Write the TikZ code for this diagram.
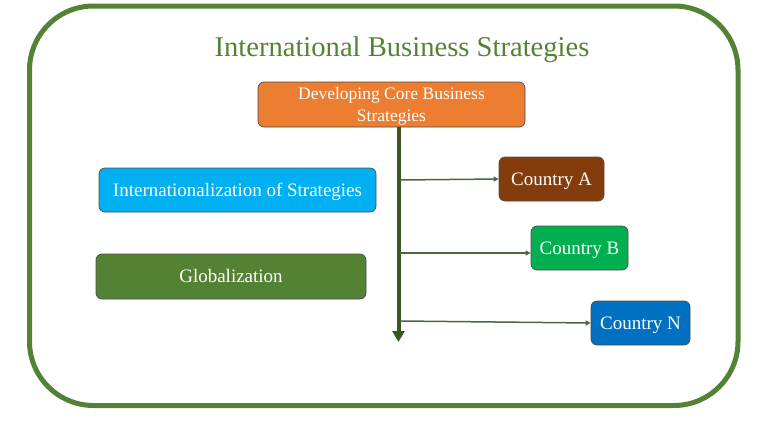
\documentclass[tikz,border=0pt]{standalone}
\usepackage{fontspec}
\setmainfont{Liberation Serif}
\usetikzlibrary{arrows.meta}
\definecolor{framegreen}{HTML}{548235}
\definecolor{trunkgreen}{HTML}{385723}
\definecolor{coreorange}{HTML}{ED7D31}
\definecolor{intlblue}{HTML}{00B0F0}
\definecolor{globgreen}{HTML}{548235}
\definecolor{brownA}{HTML}{843C0C}
\definecolor{greenB}{HTML}{00B050}
\definecolor{blueN}{HTML}{0070C0}
\begin{document}
\begin{tikzpicture}[x=1pt,y=-1pt,
basebox/.style={rectangle, rounded corners=6pt, draw=black!70, line width=0.7pt, text=white, align=center, inner sep=0pt, text depth=0pt},
stratbox/.style={basebox, text height=12.4pt, font=\fontsize{19}{21}\selectfont},
countrybox/.style={stratbox, minimum width=100pt, minimum height=44pt},
branch/.style={trunkgreen!90!white, line width=1.5pt, -{Triangle[width=5pt,length=5pt]}},
]
\useasboundingbox (0,0) rectangle (766,431);
%Frame
\draw[framegreen, line width=5pt, rounded corners=64pt] (29.5,6) rectangle (738,405.5);
\node[text=framegreen, anchor=base, font=\fontsize{28.6}{32}\selectfont] (title) at (402,56.5) {International Business Strategies};

%Nodes
\node[basebox, fill=coreorange, minimum width=267pt, minimum height=45pt, font=\fontsize{17.5}{22}\selectfont] (core) at (391.5,104.5) {Developing Core Business\\Strategies};
\node[stratbox, fill=intlblue, minimum width=277pt, minimum height=44pt] (intl) at (237.5,190) {Internationalization of Strategies};
\node[stratbox, fill=globgreen, minimum width=270pt, minimum height=45pt] (glob) at (231,276.5) {Globalization};
\node[countrybox, fill=brownA, minimum width=105pt] (ctyA) at (551.5,179) {Country A};
\node[countrybox, fill=greenB, minimum width=97pt] (ctyB) at (579.5,248) {Country B};
\node[countrybox, fill=blueN, minimum width=99pt] (ctyN) at (640.5,323) {Country N};

\coordinate (trunktop) at (398.5,127);
\coordinate (trunkend) at (398.5,342);
\coordinate (forkA) at (400,180);
\coordinate (forkB) at (400,253);
\coordinate (forkN) at (400,321);

%Lines
\draw[trunkgreen, line width=4pt, -{Triangle[width=12pt,length=11pt]}] (trunktop) -- (trunkend);
\draw[branch] (forkA) -- (ctyA.west);
\draw[branch] (forkB) -- (ctyB.west |- forkB);
\draw[branch] (forkN) -- (ctyN.west);
\end{tikzpicture}
\end{document}
